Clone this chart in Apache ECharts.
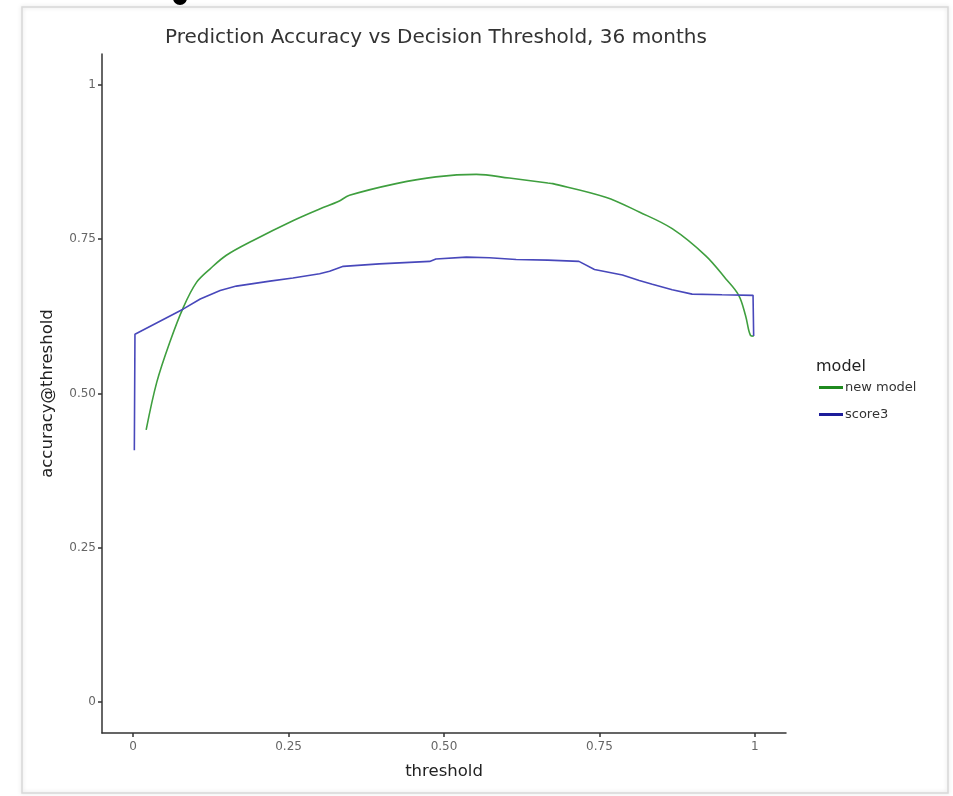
<!DOCTYPE html>
<html><head><meta charset="utf-8">
<script src="https://cdn.jsdelivr.net/npm/echarts@6/dist/echarts.min.js"></script>
<style>html,body{margin:0;padding:0;background:#fff}#c{width:953px;height:796px}</style>
</head><body><div id="c"></div>
<script>
const xTicks = [0, 0.25, 0.5, 0.75, 1];
const xTickLabels = ["0", "0.25", "0.50", "0.75", "1"];
const yTicks = [0, 0.25, 0.5, 0.75, 1];
const yTickLabels = ["0", "0.25", "0.50", "0.75", "1"];

const newModelX = [0.021,0.038,0.059,0.081,0.102,0.124,0.150,0.193,0.257,0.300,0.330,0.348,0.423,0.487,0.552,0.605,0.667,0.675,0.760,0.814,0.867,0.921,0.953,0.974,0.985,0.993,0.998];
const newModelY = [0.441,0.518,0.583,0.640,0.680,0.702,0.724,0.748,0.780,0.799,0.811,0.821,0.840,0.851,0.855,0.849,0.841,0.840,0.818,0.794,0.767,0.723,0.686,0.659,0.626,0.594,0.593];

const score3X = [0.002,0.003,0.081,0.108,0.140,0.166,0.220,0.257,0.300,0.316,0.338,0.396,0.477,0.487,0.536,0.573,0.616,0.667,0.717,0.742,0.787,0.814,0.835,0.867,0.899,0.947,0.997,0.998];
const score3Y = [0.408,0.596,0.637,0.653,0.667,0.674,0.682,0.687,0.694,0.698,0.706,0.710,0.714,0.718,0.721,0.720,0.717,0.716,0.714,0.701,0.692,0.683,0.677,0.668,0.661,0.660,0.659,0.593];

const pair = (xs, ys) => xs.map((x, i) => [x, ys[i]]);
const FONT = "DejaVu Sans";

const chart = echarts.init(document.getElementById('c'), null, {renderer: 'canvas'});
chart.setOption({
  backgroundColor: '#fff',
  animation: false,
  title: {
    text: 'Prediction Accuracy vs Decision Threshold, 36 months',
    left: 431, top: 23, textAlign: 'center',
    textStyle: {fontFamily: FONT, fontSize: 20, fontWeight: 'normal', color: '#333'}
  },
  graphic: [
    {type: 'rect', shape: {x: 22, y: 7, width: 926, height: 786},
     style: {fill: 'none', stroke: '#d8d8d8', lineWidth: 1.5, shadowBlur: 4, shadowColor: 'rgba(0,0,0,0.15)'}, z: -1},
    {type: 'circle', shape: {cx: 180, cy: -2, r: 7}, style: {fill: '#000'}, z: 10},
    {type: 'text', left: 816, top: 359, style: {text: 'model', font: '16px "DejaVu Sans"', fill: '#222'}}
  ],
  legend: {
    orient: 'vertical', left: 814, top: 376, itemGap: 14, itemWidth: 24, itemHeight: 14,
    textStyle: {fontFamily: FONT, fontSize: 13, color: '#333', padding: [0, 0, 0, -3]},
    data: [
      {name: 'new model', icon: 'path://M0,0 L24,0 L24,3 L0,3 Z', itemStyle: {color: '#1f8a1f'}},
      {name: 'score3', icon: 'path://M0,0 L24,0 L24,3 L0,3 Z', itemStyle: {color: '#1c1c9a'}}
    ]
  },
  grid: {left: 102, right: 167, top: 54, bottom: 63, containLabel: false},
  xAxis: {
    type: 'value', min: -0.05, max: 1.05,
    name: 'threshold', nameLocation: 'middle', nameGap: 30,
    nameTextStyle: {fontFamily: FONT, fontSize: 16.5, color: '#222'},
    axisLine: {show: true, onZero: false, lineStyle: {color: '#333', width: 1.5}},
    axisTick: {show: true, length: 4, customValues: xTicks, lineStyle: {color: '#333', width: 1.5}},
    axisLabel: {customValues: xTicks, fontFamily: FONT, fontSize: 12, color: '#666', margin: 8,
      formatter: v => xTickLabels[xTicks.indexOf(Math.round(v * 100) / 100)] ?? ''},
    splitLine: {show: false}
  },
  yAxis: {
    type: 'value', min: -0.05, max: 1.05,
    name: 'accuracy@threshold', nameLocation: 'middle', nameGap: 46, nameRotate: 90,
    nameTextStyle: {fontFamily: FONT, fontSize: 16.5, color: '#222'},
    axisLine: {show: true, onZero: false, lineStyle: {color: '#333', width: 1.5}},
    axisTick: {show: true, length: 4, customValues: yTicks, lineStyle: {color: '#333', width: 1.5}},
    axisLabel: {customValues: yTicks, fontFamily: FONT, fontSize: 12, color: '#666', margin: 6,
      formatter: v => yTickLabels[yTicks.indexOf(Math.round(v * 100) / 100)] ?? ''},
    splitLine: {show: false}
  },
  series: [
    {name: 'new model', type: 'line', data: pair(newModelX, newModelY), showSymbol: false, symbol: 'none',
     smooth: 0.35,
     lineStyle: {color: '#3f9f3f', width: 1.6}, itemStyle: {color: '#1f8a1f'}},
    {name: 'score3', type: 'line', data: pair(score3X, score3Y), showSymbol: false, symbol: 'none',
     lineStyle: {color: '#4848bb', width: 1.6}, itemStyle: {color: '#1c1c9a'}}
  ]
});
</script></body></html>
